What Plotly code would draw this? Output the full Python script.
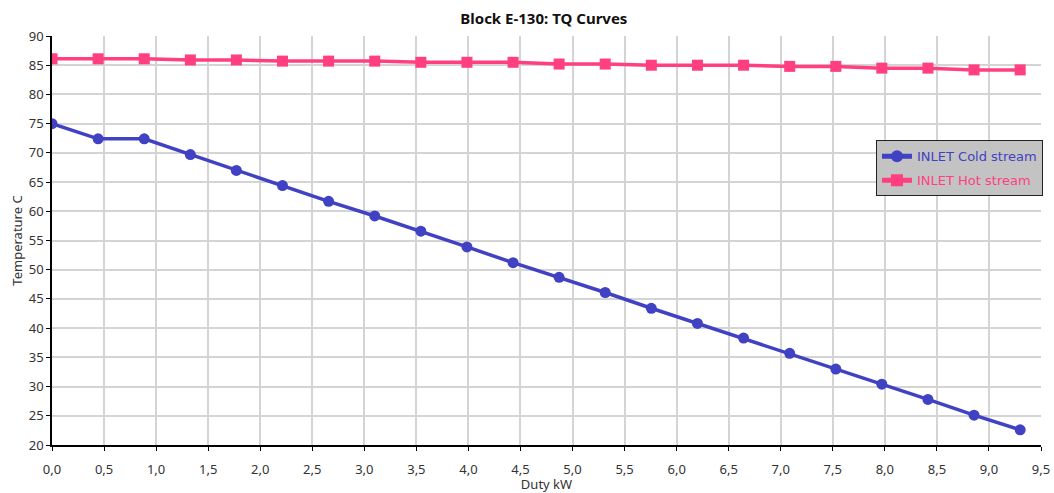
import plotly.graph_objects as go

duty = [0.0, 0.443, 0.886, 1.329, 1.771, 2.214, 2.657, 3.1, 3.543, 3.986, 4.429,
        4.871, 5.314, 5.757, 6.2, 6.643, 7.086, 7.529, 7.971, 8.414, 8.857, 9.3]
cold_temp = [75.0, 72.4, 72.4, 69.7, 67.0, 64.4, 61.7, 59.2, 56.6, 53.9, 51.2,
             48.7, 46.1, 43.4, 40.8, 38.3, 35.7, 33.0, 30.4, 27.8, 25.1, 22.6]
hot_temp = [86.1, 86.1, 86.1, 85.9, 85.9, 85.7, 85.7, 85.7, 85.5, 85.5, 85.5,
            85.2, 85.2, 85.0, 85.0, 85.0, 84.8, 84.8, 84.5, 84.5, 84.2, 84.2]

cold_name = "INLET Cold stream"
hot_name = "INLET Hot stream"
title_text = "Block E-130: TQ Curves"
x_title = "Duty kW"
y_title = "Temperature C"

COLD = "#4141C4"
HOT = "#FF3F80"
FONT = "Noto Sans, Open Sans, sans-serif"

fig = go.Figure()
fig.add_trace(go.Scatter(
    x=duty, y=cold_temp, mode="lines+markers", legendgroup="c",
    name=f"<span style='color:{COLD}'>{cold_name}</span>",
    line=dict(color=COLD, width=3.5),
    marker=dict(symbol="circle", size=11, color=COLD),
))
fig.add_trace(go.Scatter(
    x=duty, y=hot_temp, mode="lines+markers", legendgroup="h",
    name=f"<span style='color:{HOT}'>{hot_name}</span>",
    line=dict(color=HOT, width=3.5),
    marker=dict(symbol="square", size=11, color=HOT),
))

fig.update_layout(
    width=1054, height=493,
    margin=dict(l=52, r=11, t=36, b=48),
    paper_bgcolor="white", plot_bgcolor="white",
    separators=",.",
    font=dict(family=FONT, size=13, color="#333333"),
    title=dict(text=f"<b>{title_text}</b>", x=0.516, xanchor="center",
               y=0.962, yanchor="middle",
               font=dict(family=FONT, size=15, color="#111111")),
    showlegend=True,
    legend=dict(x=1.002, xanchor="right", y=0.745, yanchor="top",
                bgcolor="#C3C3C3", bordercolor="#222222", borderwidth=1,
                font=dict(family="DejaVu Sans, Noto Sans, sans-serif", size=13),
                tracegroupgap=4, itemsizing="constant"),
)
fig.update_xaxes(
    range=[0, 9.5], dtick=0.5, tick0=0, tickformat=".1f",
    showgrid=True, gridcolor="#D4D4D4", gridwidth=1.5,
    showline=True, linecolor="black", linewidth=1.5,
    ticks="outside", ticklen=4, tickcolor="black",
    ticklabelstandoff=8, automargin=False,
    zeroline=False,
    title=dict(text=x_title, standoff=7, font=dict(size=13)),
)
fig.update_yaxes(
    range=[20, 90], dtick=5, tick0=20,
    showgrid=True, gridcolor="#D4D4D4", gridwidth=1.5,
    showline=True, linecolor="black", linewidth=1.5,
    ticks="outside", ticklen=4, tickcolor="black",
    automargin=False,
    zeroline=False,
    title=dict(text=y_title, standoff=3, font=dict(size=13)),
)

fig.write_html("out.html")
